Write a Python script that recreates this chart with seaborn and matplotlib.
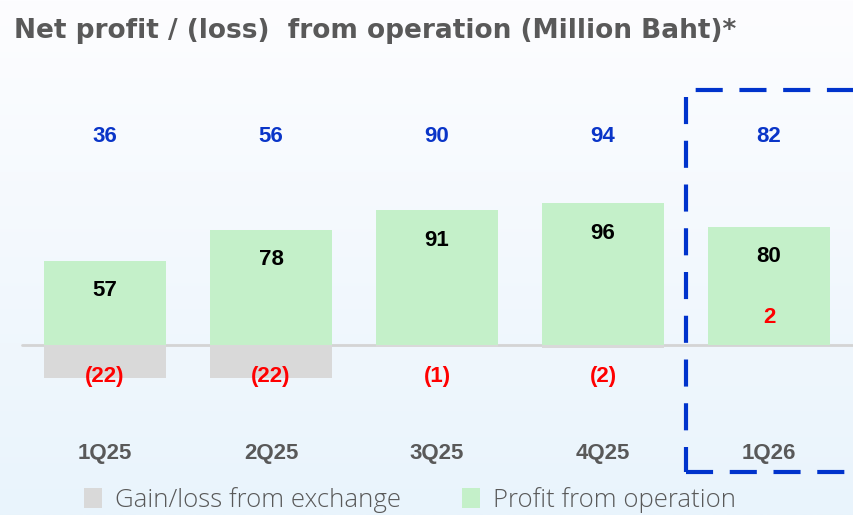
import numpy as np
import pandas as pd
import matplotlib
matplotlib.use("Agg")
import matplotlib.pyplot as plt
from matplotlib.patches import Patch, Rectangle
import seaborn as sns

# %% Data
quarters = ["1Q25", "2Q25", "3Q25", "4Q25", "1Q26"]
operation = [57, 78, 91, 96, 80]
exchange = [-22, -22, -1, -2, 2]
net_total = [36, 56, 90, 94, 82]
exchange_labels = ["(22)", "(22)", "(1)", "(2)", "2"]

df = pd.DataFrame({"Quarter": quarters, "Operation": operation, "Exchange": exchange})

GREEN = "#c4f0c9"
GREY = "#d9d9d9"
BLUE = "#0a35c8"
RED = "#ff0000"
TXT = "#595959"

sns.set_theme(style="white")
plt.rcParams["font.family"] = ["Liberation Sans", "DejaVu Sans"]

fig = plt.figure(figsize=(8.54, 5.15), dpi=100)

# %% background gradient
bg = fig.add_axes([0, 0, 1, 1], zorder=-2)
grad = np.linspace(0, 1, 256).reshape(-1, 1)
cmap = matplotlib.colors.LinearSegmentedColormap.from_list("bg", ["#fdfdff", "#e9f4fc"])
bg.imshow(grad, aspect="auto", cmap=cmap, extent=[0, 1, 0, 1], origin="upper")
bg.axis("off")

ax = fig.add_axes([0, 0, 1, 1])
ax.patch.set_alpha(0)

# %% bars
sns.barplot(data=df, x="Quarter", y="Exchange", color=GREY, width=0.735,
            saturation=1, linewidth=0, edgecolor="none", ax=ax, zorder=2)
sns.barplot(data=df, x="Quarter", y="Operation", color=GREEN, width=0.735,
            saturation=1, linewidth=0, edgecolor="none", ax=ax, zorder=3)

ax.set_xlim(-0.633, 4.512)
ax.set_ylim(-114.9, 233.3)
ax.axhline(0, xmin=(-0.5 + 0.633) / 5.145, xmax=1, color="#d4d4d4", lw=2, zorder=1)
ax.axis("off")

# %% labels
for i, q in enumerate(quarters):
    ax.text(i, 141, str(net_total[i]), ha="center", va="center",
            fontsize=16, fontweight="bold", color=BLUE, zorder=5)
    ax.text(i, operation[i] - 20.3, str(operation[i]), ha="center", va="center",
            fontsize=16, fontweight="bold", color="black", zorder=5)
    y_ex = -21 if exchange[i] < 0 else 18.3
    ax.text(i, y_ex, exchange_labels[i], ha="center", va="center",
            fontsize=16, fontweight="bold", color=RED, zorder=5)
    ax.text(i, -73, q, ha="center", va="center",
            fontsize=16, fontweight="bold", color=TXT, zorder=5)

# %% dashed box around 1Q26
box = Rectangle((686 / 854, 1 - 472 / 515), 0.3, (472 - 90) / 515,
                transform=fig.transFigure, fill=False, edgecolor="#0033cc",
                lw=3, linestyle=(0, (6.5, 4)), zorder=6)
fig.patches.append(box)

# %% title
fig.text(14 / 854, 1 - 31 / 515, "Net profit / (loss)  from operation (Million Baht)*",
         ha="left", va="center", fontsize=19, fontweight="bold", color=TXT,
         family=["DejaVu Sans"])

# %% legend
handles = [Patch(facecolor=GREY, edgecolor="none", label="Gain/loss from exchange"),
           Patch(facecolor=GREEN, edgecolor="none", label="Profit from operation")]
leg = fig.legend(handles=handles, loc="center", bbox_to_anchor=(0.48, 1 - 500 / 515),
                 ncol=2, frameon=False, handlelength=0.7, handleheight=0.85,
                 handletextpad=0.5, columnspacing=2.4,
                 prop={"family": ["Open Sans", "DejaVu Sans"], "size": 18.5, "weight": "light"})
for t in leg.get_texts():
    t.set_color(TXT)

fig.savefig("out.png", dpi=100)
